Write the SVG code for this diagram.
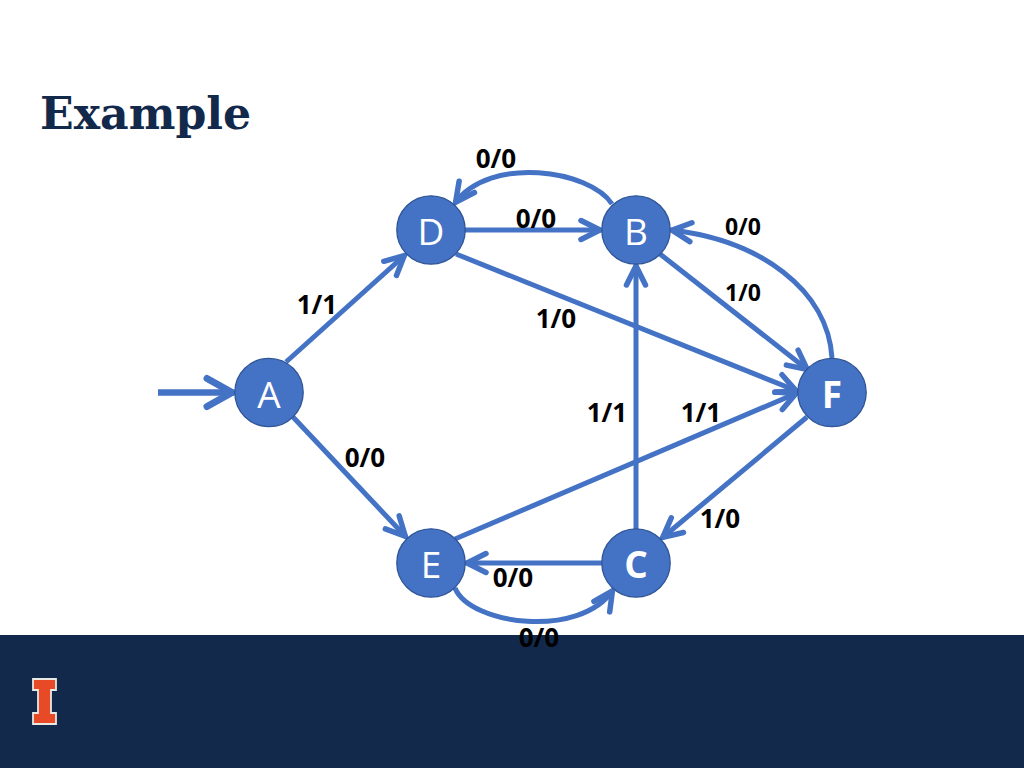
<svg xmlns="http://www.w3.org/2000/svg" width="1024" height="768" viewBox="0 0 1024 768">
<style>
.t{font-family:"DejaVu Serif",serif;font-weight:700;font-size:44.200px;fill:#13294b}
.l{font-family:"Open Sans","Liberation Sans",sans-serif;font-weight:700;font-size:26px;fill:#000;text-anchor:middle}
.s{font-size:23px}
.n{fill:#4472c4;stroke:#2f5597;stroke-width:1.300}
.nt{font-family:"Open Sans","Liberation Sans",sans-serif;font-size:37px;fill:#fff;text-anchor:middle}
.b{font-weight:700}
.c{fill:none;stroke:#4472c4;stroke-width:5}
.i{fill:none;stroke:#4472c4;stroke-width:6.500}
.h{fill:none;stroke:#4472c4;stroke-width:5.500;stroke-linecap:round;stroke-linejoin:miter}
.hi{fill:none;stroke:#4472c4;stroke-width:7;stroke-linecap:round;stroke-linejoin:miter}
</style>
<defs>
<marker id="a" markerUnits="userSpaceOnUse" markerWidth="30" markerHeight="30" refX="24" refY="15" orient="auto" overflow="visible">
<path class="h" d="M4 5.500 L23 15 L4 24.500"/>
</marker>
<marker id="ai" markerUnits="userSpaceOnUse" markerWidth="40" markerHeight="40" refX="33" refY="20" orient="auto" overflow="visible">
<path class="hi" d="M6 6 L31 20 L6 34"/>
</marker>
</defs>
<rect width="1024" height="768" fill="#fff"/>
<rect y="635" width="1024" height="133" fill="#13294b"/>
<g id="logo">
<path d="M33 679H56V690H51V713H56V724H33V713H38V690H33Z" fill="#e84a27" stroke="#e8e8e4" stroke-width="1.800"/>
</g>
<text class="t" x="40" y="129">Example</text>
<g id="connectors">
<path class="i" marker-end="url(#ai)" d="M158 392.500H234"/>
<path class="c" marker-end="url(#a)" d="M286 362L405 255"/>
<path class="c" marker-end="url(#a)" d="M293 417L406 537"/>
<path class="c" marker-end="url(#a)" d="M465 230H601"/>
<path class="c" marker-end="url(#a)" d="M456 254L797 391"/>
<path class="c" marker-end="url(#a)" d="M612 204C590 170 490 155 455 203"/>
<path class="c" marker-end="url(#a)" d="M660 254L808 370"/>
<path class="c" marker-end="url(#a)" d="M832 358C828 290 760 240 671 230"/>
<path class="c" marker-end="url(#a)" d="M636 529V265"/>
<path class="c" marker-end="url(#a)" d="M455 539L797 393"/>
<path class="c" marker-end="url(#a)" d="M807 417L662 538"/>
<path class="c" marker-end="url(#a)" d="M602 563H466"/>
<path class="c" marker-end="url(#a)" d="M455 588C470 625 580 639 613 590"/>
</g>
<g id="node-D"><circle class="n" cx="431" cy="230" r="34.200"/><text class="nt" x="431" y="245">D</text></g>
<g id="node-B"><circle class="n" cx="636" cy="230" r="34.200"/><text class="nt" x="636" y="245">B</text></g>
<g id="node-A"><circle class="n" cx="269" cy="392.500" r="34.200"/><text class="nt" x="269" y="408">A</text></g>
<g id="node-F"><circle class="n" cx="832" cy="392.500" r="34.200"/><text class="nt b" x="832" y="408">F</text></g>
<g id="node-E"><circle class="n" cx="431" cy="563" r="34.200"/><text class="nt" x="431" y="578">E</text></g>
<g id="node-C"><circle class="n" cx="636" cy="563" r="34.200"/><text class="nt b" x="636" y="578">C</text></g>
<g id="labels">
<text class="l" x="496" y="168">0/0</text>
<text class="l" x="536" y="228">0/0</text>
<text class="l s" x="743" y="235">0/0</text>
<text class="l s" x="743" y="301">1/0</text>
<text class="l" x="317" y="314">1/1</text>
<text class="l" x="556" y="328">1/0</text>
<text class="l" x="607" y="422">1/1</text>
<text class="l" x="701" y="422">1/1</text>
<text class="l" x="365" y="467">0/0</text>
<text class="l" x="720" y="528">1/0</text>
<text class="l" x="513" y="587">0/0</text>
<text class="l" x="539" y="647">0/0</text>
</g>
</svg>
